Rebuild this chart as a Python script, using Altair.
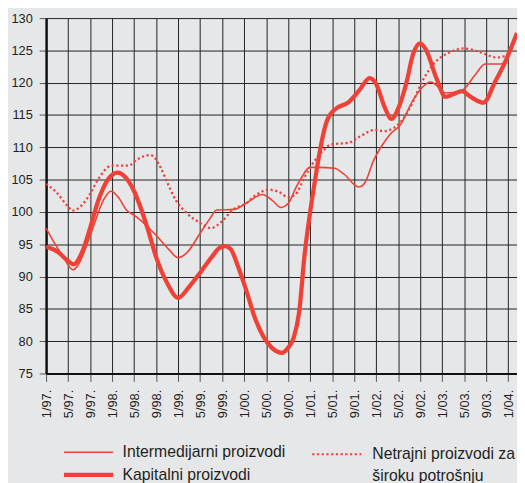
import altair as alt
import pandas as pd

RED = "#ef4136"
TXT = "#231f20"
FONT = "Liberation Sans"

series_names = [
    "Intermedijarni proizvodi",
    "Kapitalni proizvodi",
    "Netrajni proizvodi za široku potrošnju",
]

tick_labels = ["1/97.", "5/97.", "9/97.", "1/98.", "5/98.", "9/98.", "1/99.",
               "5/99.", "9/99.", "1/00.", "5/00.", "9/00.", "1/01.", "5/01.",
               "9/01.", "1/02.", "5/02.", "9/02.", "1/03.", "5/03.", "9/03.", "1/04."]
y_ticks = [75, 80, 85, 90, 95, 100, 105, 110, 115, 120, 125, 130]

# months counted from January 1997
int_months = [0, 1.5, 3, 4.9, 5.9, 7.1, 8.6, 10.4, 11.8, 13.1, 14.6, 16, 18.4, 20.2,
              22.3, 24, 25.6, 28, 29.8, 31, 34.2, 36.3, 39.3, 41.1, 42.7, 44, 45.5,
              46.5, 47.9, 49.4, 52.4, 54.1, 56.8, 58, 59.5, 61, 62.5, 64.4, 66.7,
              68.4, 69.9, 71.6, 72.6, 75.6, 77.9, 79.8, 82.7, 84.1, 85.6]
int_values = [97.5, 95.2, 93.2, 91.05, 91.9, 94.2, 97.75, 101.8, 103.2, 102.3, 100.3,
              99.5, 97.75, 96.2, 94.2, 92.9, 93.7, 96.7, 99.0, 100.3, 100.4, 101.3,
              102.7, 101.8, 100.7, 101.3, 103.9, 105.4, 106.9, 106.9, 106.75, 105.9,
              103.85, 104.6, 107.9, 110.2, 112.0, 113.5, 117.3, 119.3, 120.1, 119.1,
              118.4, 118.8, 121.1, 122.9, 122.9, 124.2, 127.5]

kap_months = [0, 2, 4, 5, 6.5, 8, 9.5, 11.3, 13, 14.5, 16, 18.5, 20, 22, 24, 26, 28,
              30, 31.5, 32.5, 33.5, 35, 36.3, 38, 39.5, 41, 42.9, 44, 45, 46, 47, 48,
              49, 50, 51, 52.4, 55, 57, 58.8, 60, 61.5, 62.8, 64, 65.5, 66.7, 68, 69,
              71, 72.6, 74, 75.6, 77.2, 79.5, 81.6, 83.4, 85.6]
kap_values = [94.6, 93.9, 92.4, 91.9, 93.7, 97.5, 101.8, 105.1, 106.1, 105.3, 103.2,
              97.3, 93.0, 89.0, 86.7, 88.4, 90.6, 92.9, 94.4, 94.7, 94.3, 91.3, 88.1,
              83.5, 80.7, 79.0, 78.2, 79.0, 80.5, 84.5, 93.5, 100.0, 105.5, 110.5,
              114.0, 115.8, 117.0, 118.9, 120.7, 119.8, 116.3, 114.4, 116.0, 120.0,
              124.4, 126.1, 125.2, 120.6, 117.8, 118.2, 118.7, 117.8, 116.9, 120.1,
              123.1, 127.7]

net_months = [0, 1.8, 4, 4.75, 6.5, 8, 9.5, 11.9, 14.9, 16.7, 19, 20.8, 22, 23.6, 25.6,
              28, 30, 31.9, 33.9, 36.3, 38.1, 40.5, 42.3, 44, 45.2, 47, 48.8, 50.6,
              51.8, 55, 57.1, 59.8, 61.3, 63.2, 65, 66.7, 68.3, 71, 73.4, 76, 78.6,
              82, 83.5, 85.6]
net_values = [104.35, 103.1, 100.8, 100.2, 101.05, 102.8, 105.1, 107.15, 107.15, 108.2,
              108.8, 106.9, 104.6, 101.8, 99.8, 98.3, 97.5, 98.5, 100.3, 101.3, 102.6,
              103.45, 103.1, 102.3, 102.6, 105.4, 107.9, 109.7, 110.45, 110.7, 111.7,
              112.7, 112.5, 113.0, 114.5, 117.05, 120.1, 123.4, 124.7, 125.3, 124.8,
              123.9, 124.2, 127.5]

rows = []
for name, ms, vs in [(series_names[0], int_months, int_values),
                     (series_names[1], kap_months, kap_values),
                     (series_names[2], net_months, net_values)]:
    for m, v in zip(ms, vs):
        rows.append({"month": m, "value": v, "series": name})
df = pd.DataFrame(rows)

label_expr = "[" + ",".join("'%s'" % t for t in tick_labels) + "][round(datum.value/4)]"

x = alt.X("month:Q",
          scale=alt.Scale(domain=[0, 85.6], nice=False, zero=False),
          axis=alt.Axis(values=list(range(0, 85, 4)), labelExpr=label_expr,
                        labelAngle=-90, title=None, tickSize=8, labelPadding=8,
                        labelFontSize=13, labelFont=FONT, labelColor=TXT,
                        domainColor="#111", domainWidth=2, tickColor="#555",
                        tickWidth=1, grid=True, gridColor="#222", gridWidth=1,
                        labelOverlap=False, labelBound=False, labelFlush=False))
y = alt.Y("value:Q",
          scale=alt.Scale(domain=[75, 130], nice=False, zero=False),
          axis=alt.Axis(values=y_ticks, title=None, tickSize=7, labelPadding=7,
                        labelFontSize=13, labelFont=FONT, labelColor=TXT,
                        domainColor="#111", domainWidth=2.5, tickColor="#555",
                        tickWidth=1, grid=True, gridColor="#222", gridWidth=1,
                        labelOverlap=False))

solid = alt.Chart(df).transform_filter(
    alt.FieldOneOfPredicate(field="series", oneOf=series_names[:2])
).mark_line(interpolate="monotone", color=RED, clip=True).encode(
    x=x, y=y,
    strokeWidth=alt.StrokeWidth(
        "series:N",
        scale=alt.Scale(domain=series_names[:2], range=[1.6, 4.3]),
        legend=alt.Legend(title=None, orient="none", legendX=15.6, legendY=433,
                          direction="vertical", symbolType="stroke", symbolSize=2500,
                          symbolStrokeColor=RED, clipHeight=16, labelFontSize=16,
                          labelFont=FONT, labelColor=TXT, labelOffset=7,
                          rowPadding=7, padding=0, labelLimit=400),
    ),
)

dotted = alt.Chart(df).transform_filter(
    alt.FieldEqualPredicate(field="series", equal=series_names[2])
).mark_line(interpolate="monotone", color=RED, strokeWidth=2.3, clip=True).encode(
    x=x, y=y,
    strokeDash=alt.StrokeDash(
        "series:N",
        scale=alt.Scale(domain=[series_names[2]], range=[[2.2, 2.6]]),
        legend=alt.Legend(title=None, orient="none", legendX=269.3, legendY=435,
                          symbolType="stroke", symbolSize=2500, symbolStrokeColor=RED,
                          symbolStrokeWidth=2, clipHeight=16, labelFontSize=16,
                          labelFont=FONT, labelColor=TXT, labelOffset=10,
                          labelBaseline="middle", padding=0, labelLimit=400,
                          labelExpr="['Netrajni proizvodi za', 'široku potrošnju']"),
    ),
)

chart = alt.layer(solid, dotted).properties(
    width=478.3, height=361,
    background="#e6e7e9",
    autosize=alt.AutoSizeParams(type="none"),
    padding={"left": 38.7, "top": 6.5, "right": 0, "bottom": 107.5},
).configure(style={"guide-label": {"lineHeight": 22}}).configure_view(strokeWidth=0)

chart.save("out.html", embed_options={"renderer": "svg", "actions": False})
